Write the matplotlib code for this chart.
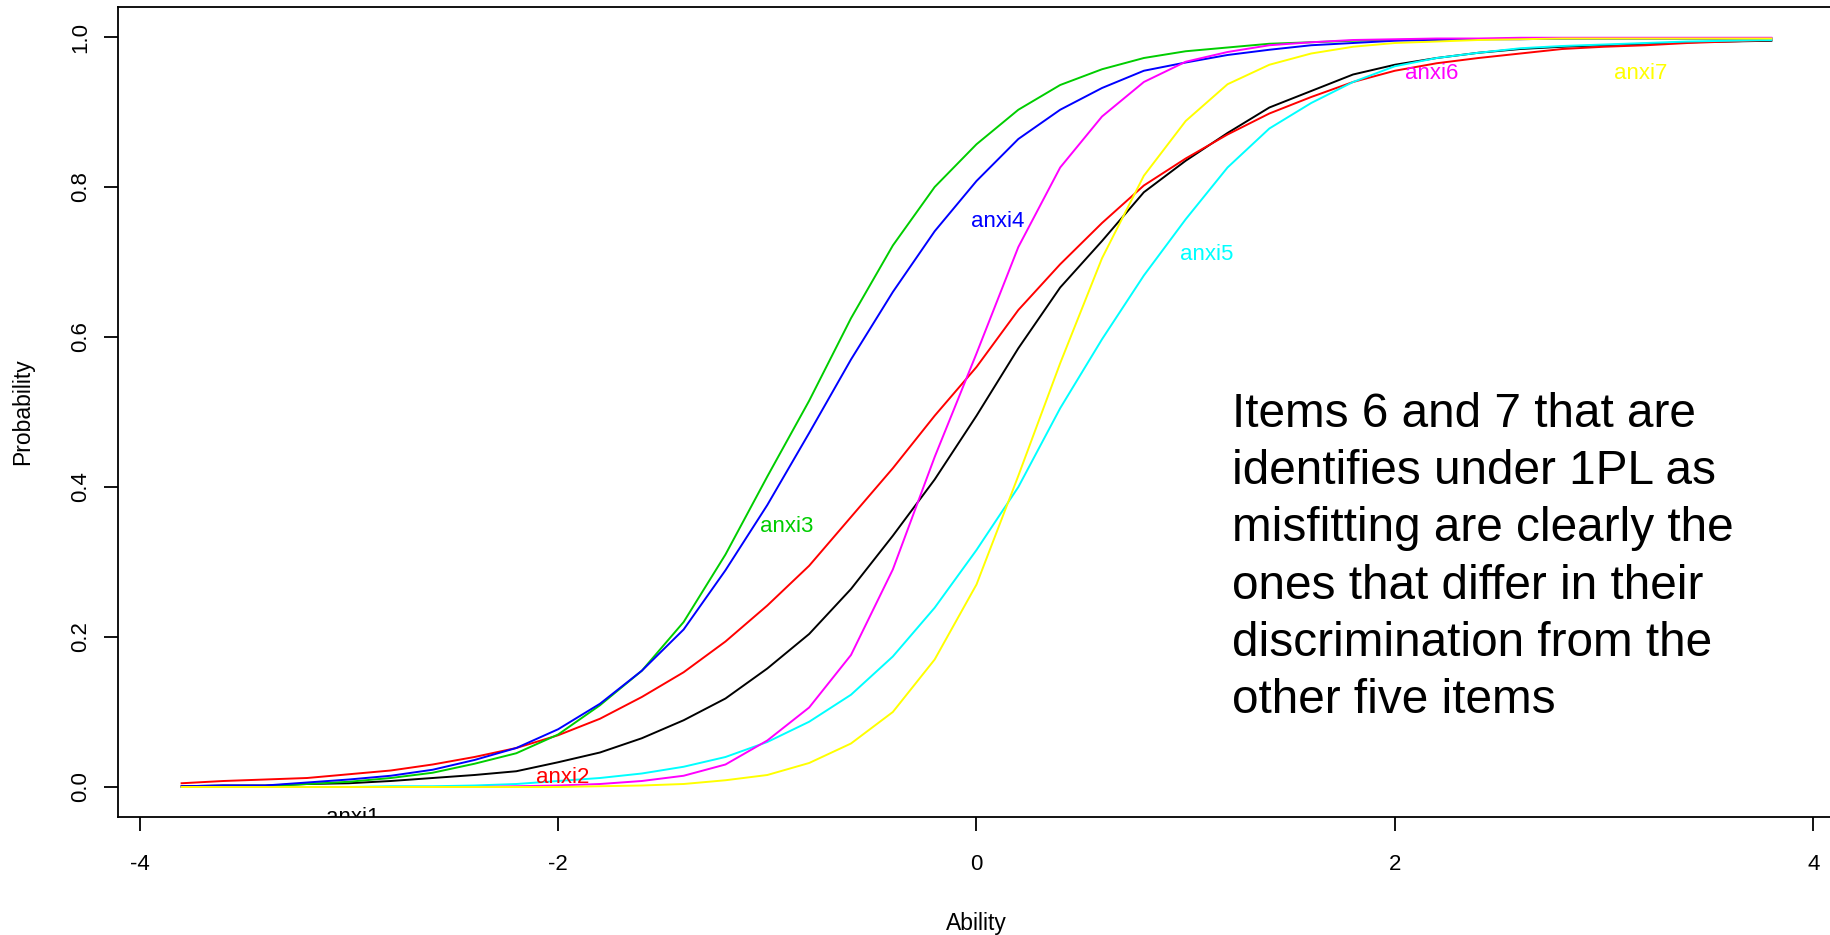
import matplotlib
matplotlib.use("Agg")
import matplotlib.pyplot as plt

plt.rcParams["font.family"] = ["Liberation Sans", "DejaVu Sans"]
plt.rcParams["axes.unicode_minus"] = False

# ability grid and item characteristic curves
ability = [-3.8, -3.6, -3.4, -3.2, -3.0, -2.8, -2.6, -2.4, -2.2, -2.0,
           -1.8, -1.6, -1.4, -1.2, -1.0, -0.8, -0.6, -0.4, -0.2, 0.0,
           0.2, 0.4, 0.6, 0.8, 1.0, 1.2, 1.4, 1.6, 1.8, 2.0,
           2.2, 2.4, 2.6, 2.8, 3.0, 3.2, 3.4, 3.6, 3.8]

anxi1 = [0.001, 0.002, 0.002, 0.004, 0.005, 0.008, 0.012, 0.016, 0.021, 0.033,
         0.046, 0.065, 0.089, 0.118, 0.158, 0.204, 0.264, 0.335, 0.410, 0.495,
         0.585, 0.666, 0.728, 0.793, 0.835, 0.872, 0.906, 0.928, 0.950, 0.963,
         0.972, 0.979, 0.984, 0.987, 0.989, 0.991, 0.993, 0.994, 0.995]
anxi2 = [0.005, 0.008, 0.010, 0.012, 0.017, 0.022, 0.030, 0.040, 0.052, 0.069,
         0.091, 0.120, 0.153, 0.194, 0.242, 0.295, 0.360, 0.425, 0.495, 0.560,
         0.636, 0.697, 0.752, 0.802, 0.838, 0.870, 0.898, 0.920, 0.940, 0.955,
         0.965, 0.972, 0.978, 0.984, 0.987, 0.989, 0.992, 0.994, 0.996]
anxi3 = [0.000, 0.001, 0.001, 0.004, 0.007, 0.012, 0.019, 0.031, 0.045, 0.070,
         0.109, 0.155, 0.220, 0.310, 0.414, 0.515, 0.625, 0.722, 0.800, 0.857,
         0.903, 0.936, 0.957, 0.972, 0.981, 0.986, 0.991, 0.993, 0.995, 0.996,
         0.997, 0.997, 0.998, 0.998, 0.998, 0.998, 0.998, 0.998, 0.998]
anxi4 = [0.001, 0.002, 0.002, 0.006, 0.010, 0.015, 0.023, 0.036, 0.052, 0.077,
         0.111, 0.155, 0.210, 0.289, 0.376, 0.472, 0.570, 0.660, 0.741, 0.808,
         0.864, 0.903, 0.932, 0.955, 0.966, 0.976, 0.983, 0.989, 0.992, 0.995,
         0.996, 0.997, 0.997, 0.998, 0.998, 0.998, 0.998, 0.998, 0.998]
anxi5 = [0.000, 0.000, 0.000, 0.000, 0.000, 0.001, 0.001, 0.002, 0.004, 0.008,
         0.012, 0.018, 0.027, 0.040, 0.060, 0.087, 0.123, 0.174, 0.239, 0.316,
         0.400, 0.505, 0.597, 0.682, 0.757, 0.826, 0.878, 0.912, 0.940, 0.961,
         0.972, 0.979, 0.985, 0.988, 0.990, 0.992, 0.994, 0.995, 0.996]
anxi6 = [0.000, 0.000, 0.000, 0.000, 0.000, 0.000, 0.000, 0.000, 0.001, 0.002,
         0.004, 0.008, 0.015, 0.030, 0.062, 0.106, 0.176, 0.290, 0.440, 0.578,
         0.720, 0.826, 0.894, 0.940, 0.967, 0.980, 0.989, 0.993, 0.996, 0.997,
         0.998, 0.998, 0.999, 0.999, 0.999, 0.999, 0.999, 0.999, 0.999]
anxi7 = [0.000, 0.000, 0.000, 0.000, 0.000, 0.000, 0.000, 0.000, 0.000, 0.000,
         0.001, 0.002, 0.004, 0.009, 0.016, 0.032, 0.058, 0.100, 0.170, 0.270,
         0.415, 0.565, 0.705, 0.815, 0.888, 0.937, 0.963, 0.978, 0.987, 0.992,
         0.994, 0.996, 0.997, 0.998, 0.998, 0.998, 0.998, 0.998, 0.998]

item_names = ["anxi1", "anxi2", "anxi3", "anxi4", "anxi5", "anxi6", "anxi7"]
item_curves = [anxi1, anxi2, anxi3, anxi4, anxi5, anxi6, anxi7]
item_colors = ["black", "#FF0000", "#00CD00", "#0000FF", "#00FFFF", "#FF00FF", "#FFFF00"]

# where each item name is written
label_x = [-2.98, -1.98, -0.907, 0.100, 1.101, 2.177, 3.174]
label_y = [-0.037, 0.016, 0.351, 0.757, 0.714, 0.955, 0.955]

note_lines = ["Items 6 and 7 that are",
              "identifies under 1PL as",
              "misfitting are clearly the",
              "ones that differ in their",
              "discrimination from the",
              "other five items"]

W, H = 1831, 935
fig = plt.figure(figsize=(W / 100, H / 100), dpi=100)
ax = fig.add_axes([118 / W, (H - 817) / H, (1835 - 118) / W, (817 - 7) / H])

for name, ys, col in zip(item_names, item_curves, item_colors):
    ax.plot(ability, ys, color=col, linewidth=1.4, solid_joinstyle="round")

for name, lx, ly, col in zip(item_names, label_x, label_y, item_colors):
    ax.text(lx, ly, name, color=col, fontsize=16, ha="center",
            va="center_baseline", clip_on=True)

ax.set_xlim(-4.104, 4.104)
ax.set_ylim(-0.04, 1.04)

ax.set_xticks([-4, -2, 0, 2, 4])
ax.set_xticklabels(["-4", "-2", "0", "2", "4"], fontsize=16)
ax.set_yticks([0.0, 0.2, 0.4, 0.6, 0.8, 1.0])
ax.set_yticklabels(["0.0", "0.2", "0.4", "0.6", "0.8", "1.0"], fontsize=16,
                   rotation=90, va="center")
ax.tick_params(axis="x", direction="out", length=10, width=1.3, pad=17)
ax.tick_params(axis="y", direction="out", length=10, width=1.3, pad=9)
for sp in ax.spines.values():
    sp.set_linewidth(1.3)

fig.text(23 / W, 1 - 412 / H, "Probability", rotation=90, fontsize=16.5,
         ha="center", va="center")
fig.text(976 / W, 1 - 930 / H, "Ability", fontsize=16.5, ha="center", va="baseline")

# annotation block, one baseline per line
for i, line in enumerate(note_lines):
    fig.text(1232 / W, 1 - (426.7 + 57.3 * i) / H, line, fontsize=34.4,
             ha="left", va="baseline")

fig.savefig("out.png", dpi=100)
